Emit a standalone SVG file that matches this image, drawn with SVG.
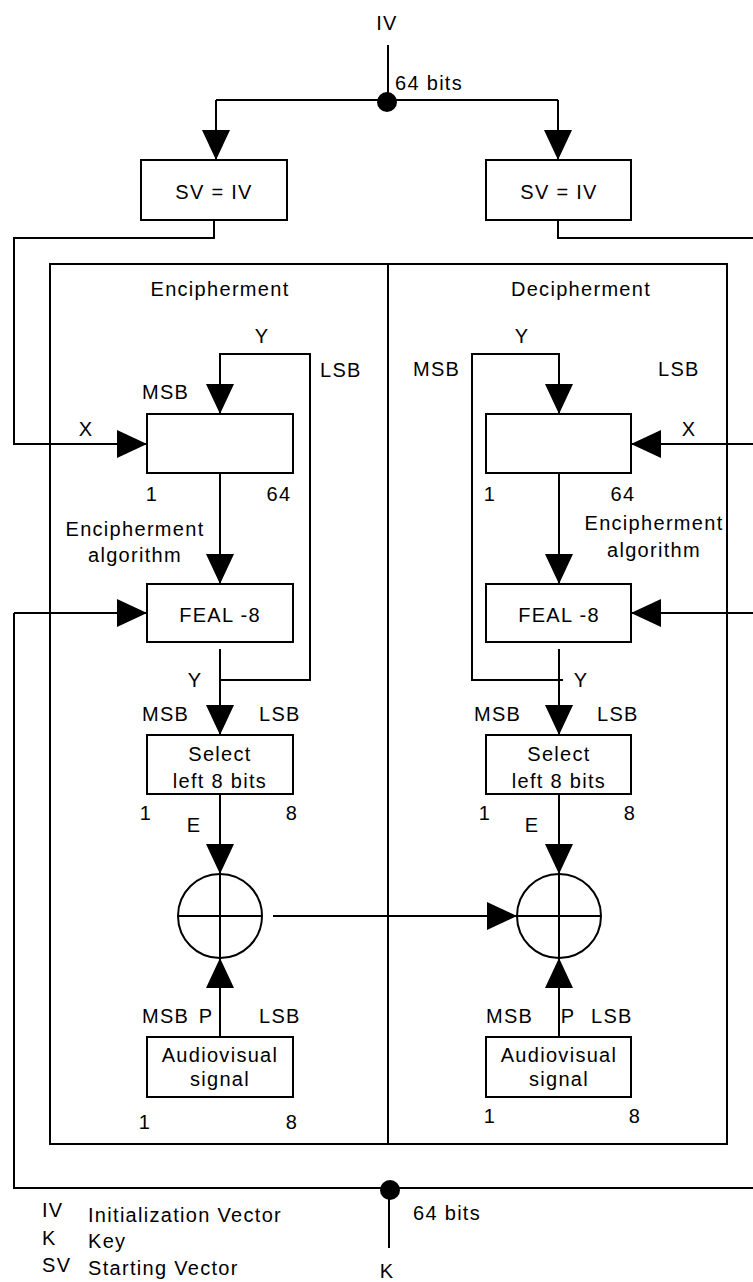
<svg xmlns="http://www.w3.org/2000/svg" width="753" height="1282" viewBox="0 0 753 1282">
<style>
text{font-family:"Liberation Sans",Arial,sans-serif;font-size:20px;letter-spacing:1.3px;fill:#000}
.c{text-anchor:middle}
.ln{fill:none;stroke:#000;stroke-width:2}
.box{fill:#fff;stroke:#000;stroke-width:2}
</style>
<defs>
<marker id="ah" viewBox="0 0 30 28" refX="30" refY="14" markerWidth="30" markerHeight="28" markerUnits="userSpaceOnUse" orient="auto">
<path d="M0,0L30,14L0,28Z" fill="#000"/>
</marker>
</defs>
<rect width="753" height="1282" fill="#fff"/>
<g id="panel">
<rect x="50" y="264" width="677" height="880" class="ln"/>
<line x1="388" y1="264" x2="388" y2="1144" class="ln"/>
<text x="220" y="296" class="c">Encipherment</text>
<text x="581" y="296" class="c">Decipherment</text>
</g>
<g id="connectors">
<line x1="388" y1="45" x2="388" y2="102" class="ln"/>
<path d="M216,100H558" class="ln"/>
<path d="M216,100V160" class="ln" marker-end="url(#ah)"/>
<path d="M558,100V160" class="ln" marker-end="url(#ah)"/>
<circle cx="387" cy="102" r="10" fill="#000"/>
<path d="M214,220V238H14V444H147" class="ln" marker-end="url(#ah)"/>
<path d="M558,220V238H755" class="ln"/>
<path d="M755,444H631" class="ln" marker-end="url(#ah)"/>
<path d="M755,613H631" class="ln" marker-end="url(#ah)"/>
<path d="M14,613V1188H755" class="ln"/>
<path d="M14,613H147" class="ln" marker-end="url(#ah)"/>
<circle cx="390" cy="1190" r="10" fill="#000"/>
<line x1="389" y1="1190" x2="389" y2="1248" class="ln"/>
<path d="M220,680H310V354H220V414" class="ln" marker-end="url(#ah)"/>
<path d="M220,473V584" class="ln" marker-end="url(#ah)"/>
<path d="M220,649V735" class="ln" marker-end="url(#ah)"/>
<path d="M220,794V874" class="ln" marker-end="url(#ah)"/>
<path d="M220,1037V958" class="ln" marker-end="url(#ah)"/>
<path d="M273,916H517" class="ln" marker-end="url(#ah)"/>
<path d="M563,680H472V354H559V414" class="ln" marker-end="url(#ah)"/>
<path d="M559,473V584" class="ln" marker-end="url(#ah)"/>
<path d="M559,649V735" class="ln" marker-end="url(#ah)"/>
<path d="M559,794V874" class="ln" marker-end="url(#ah)"/>
<path d="M559,1037V958" class="ln" marker-end="url(#ah)"/>
</g>
<g id="labels">
<text x="387" y="30" class="c">IV</text>
<text x="395" y="90">64 bits</text>
<text x="262" y="343" class="c">Y</text>
<text x="320" y="377">LSB</text>
<text x="142" y="399">MSB</text>
<text x="86" y="436" class="c">X</text>
<text x="152" y="501" class="c">1</text>
<text x="279" y="501" class="c">64</text>
<text x="135" y="536" class="c">Encipherment</text>
<text x="135" y="562" class="c">algorithm</text>
<text x="195" y="687" class="c">Y</text>
<text x="142" y="721">MSB</text>
<text x="259" y="721">LSB</text>
<text x="146" y="820" class="c">1</text>
<text x="292" y="820" class="c">8</text>
<text x="194" y="832" class="c">E</text>
<text x="142" y="1023">MSB</text>
<text x="206" y="1023" class="c">P</text>
<text x="259" y="1023">LSB</text>
<text x="145" y="1129" class="c">1</text>
<text x="292" y="1129" class="c">8</text>
<text x="522" y="343" class="c">Y</text>
<text x="413" y="376">MSB</text>
<text x="658" y="376">LSB</text>
<text x="689" y="436" class="c">X</text>
<text x="490" y="501" class="c">1</text>
<text x="623" y="501" class="c">64</text>
<text x="654" y="530" class="c">Encipherment</text>
<text x="654" y="557" class="c">algorithm</text>
<text x="581" y="687" class="c">Y</text>
<text x="474" y="721">MSB</text>
<text x="597" y="721">LSB</text>
<text x="485" y="820" class="c">1</text>
<text x="630" y="820" class="c">8</text>
<text x="532" y="832" class="c">E</text>
<text x="486" y="1023">MSB</text>
<text x="568" y="1023" class="c">P</text>
<text x="591" y="1023">LSB</text>
<text x="490" y="1123" class="c">1</text>
<text x="635" y="1123" class="c">8</text>
<text x="413" y="1220">64 bits</text>
<text x="387" y="1278" class="c">K</text>
</g>
<g id="legend">
<text x="42" y="1217">IV</text>
<text x="88" y="1222">Initialization Vector</text>
<text x="42" y="1245">K</text>
<text x="88" y="1248">Key</text>
<text x="42" y="1272">SV</text>
<text x="88" y="1275">Starting Vector</text>
</g>
<g id="sv-left"><rect x="141" y="160" width="146" height="60" class="box"/><text x="214" y="199" class="c">SV = IV</text></g>
<g id="sv-right"><rect x="486" y="160" width="145" height="60" class="box"/><text x="559" y="199" class="c">SV = IV</text></g>
<g id="reg-enc"><rect x="147" y="414" width="146" height="59" class="box"/></g>
<g id="feal-enc"><rect x="147" y="584" width="146" height="58" class="box"/><text x="220" y="622" class="c">FEAL -8</text></g>
<g id="select-enc"><rect x="147" y="735" width="146" height="59" class="box"/><text x="220" y="761" class="c">Select</text><text x="220" y="788" class="c">left 8 bits</text></g>
<g id="xor-enc"><circle cx="220" cy="916" r="42" class="ln"/><path d="M178,916H262M220,874V958" class="ln"/></g>
<g id="av-enc"><rect x="147" y="1037" width="146" height="60" class="box"/><text x="220" y="1062" class="c">Audiovisual</text><text x="220" y="1086" class="c">signal</text></g>
<g id="reg-dec"><rect x="486" y="414" width="145" height="59" class="box"/></g>
<g id="feal-dec"><rect x="486" y="584" width="145" height="58" class="box"/><text x="559" y="622" class="c">FEAL -8</text></g>
<g id="select-dec"><rect x="486" y="735" width="145" height="59" class="box"/><text x="559" y="761" class="c">Select</text><text x="559" y="788" class="c">left 8 bits</text></g>
<g id="xor-dec"><circle cx="559" cy="916" r="42" class="ln"/><path d="M517,916H601M559,874V958" class="ln"/></g>
<g id="av-dec"><rect x="486" y="1037" width="145" height="60" class="box"/><text x="559" y="1062" class="c">Audiovisual</text><text x="559" y="1086" class="c">signal</text></g>
</svg>
